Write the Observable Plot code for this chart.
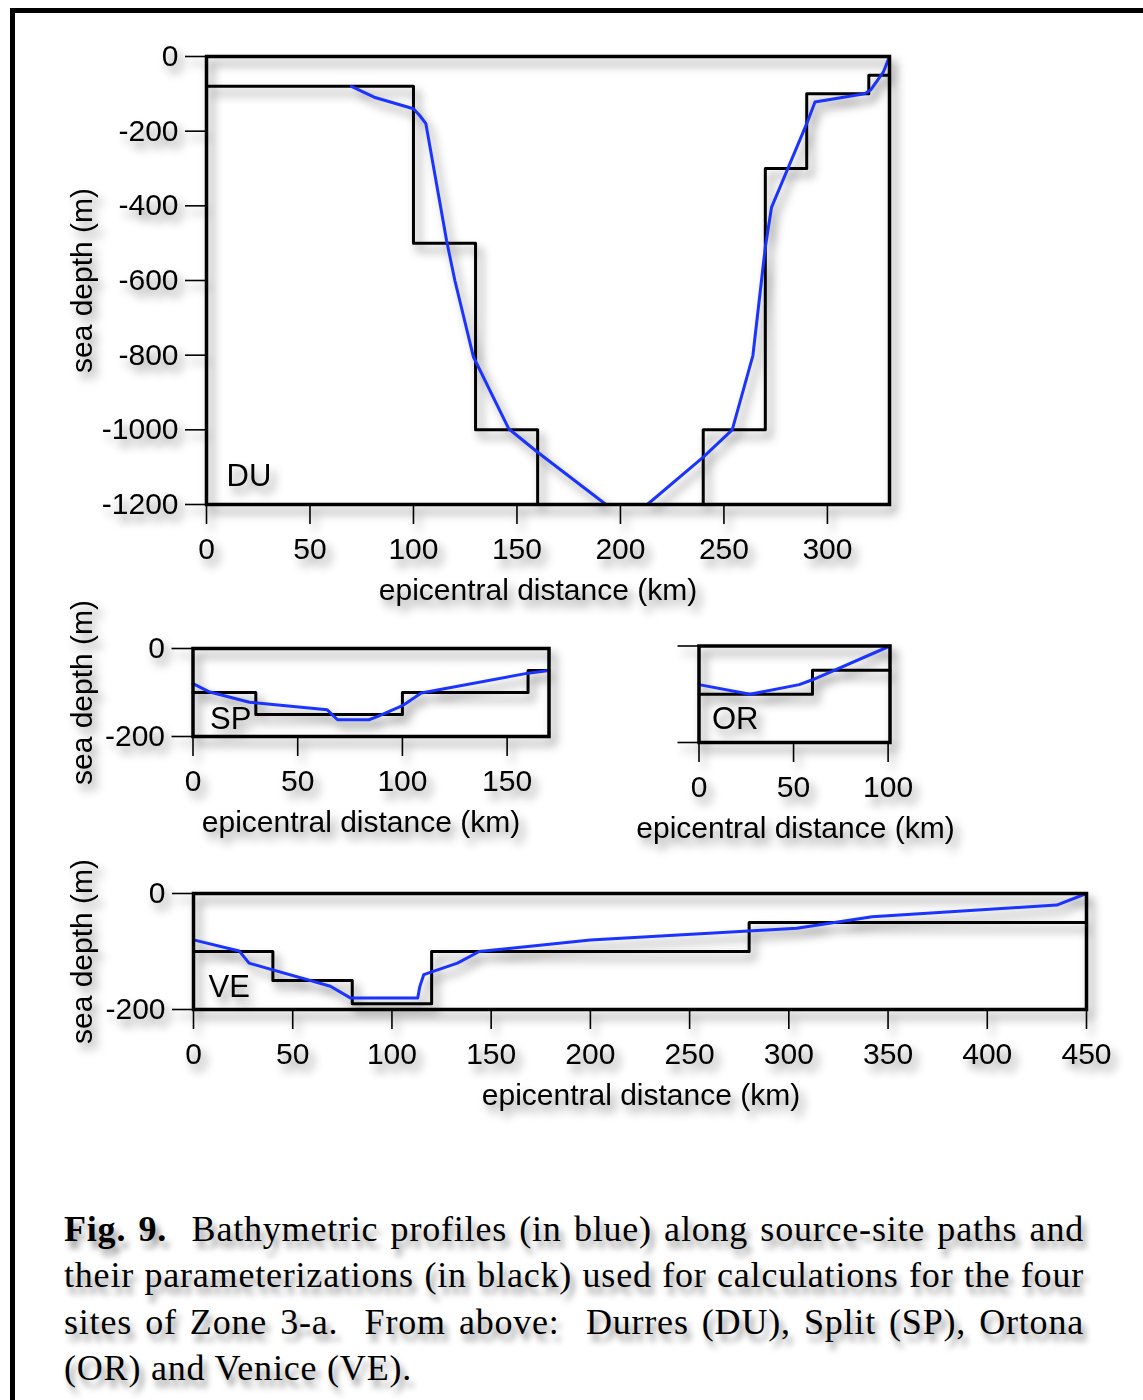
<!DOCTYPE html>
<html>
<head>
<meta charset="utf-8">
<script src="https://cdn.jsdelivr.net/npm/d3@7"></script>
<script src="https://cdn.jsdelivr.net/npm/@observablehq/plot@0.6"></script>
<style>
  html, body { margin: 0; padding: 0; background: #fff; }
  #page { position: relative; width: 1143px; height: 1400px; overflow: hidden; background: #fff; }
  #border { position: absolute; left: 10px; top: 8px; width: 1300px; height: 1500px;
            border-top: 5px solid #000; border-left: 5px solid #000; }
  .panel { position: absolute; }
  .panel svg { overflow: visible; max-width: none; filter: drop-shadow(5px 7px 5px rgba(0,0,0,0.45)); }
  #caption { position: absolute; left: 64px; top: 1206px; width: 1020px;
             font-family: "Liberation Serif", "Times New Roman", serif; font-size: 36px; line-height: 46.3px;
             letter-spacing: 0.8px;
             color: #000; text-shadow: 4px 7px 6px rgba(0,0,0,0.45); }
  #caption div { text-align: justify; text-align-last: justify; white-space: nowrap; }
  #caption div.last { text-align-last: left; }
</style>
</head>
<body>
<div id="page">
  <div id="border"></div>
  <div id="caption">
    <div><b>Fig. 9.</b>&nbsp; Bathymetric profiles (in blue) along source-site paths and</div>
    <div>their parameterizations (in black) used for calculations for the four</div>
    <div>sites of Zone 3-a.&nbsp; From above:&nbsp; Durres (DU), Split (SP), Ortona</div>
    <div class="last">(OR) and Venice (VE).</div>
  </div>
</div>
<script>
// ---- Durres (DU) ----
const duDist  = [70, 81, 100, 103, 106, 116, 120, 129, 146, 160, 193, 213, 240, 254, 264, 270, 273, 290, 294, 318, 321, 327, 330];
const duDepth = [-80, -109, -140, -158, -180, -493, -600, -805, -997, -1060, -1200, -1200, -1073, -1000, -801, -511, -404, -180, -122, -100, -89, -42, 0];
const duStepDist  = [0, 100, 130, 160, 240, 270, 290, 320, 330];
const duStepDepth = [-80, -500, -1000, -1200, -1000, -300, -100, -50, -50];
const duXTicks = [0, 50, 100, 150, 200, 250, 300];
const duYTicks = [0, -200, -400, -600, -800, -1000, -1200];

// ---- Split (SP) ----
const spDist  = [0, 8, 27, 64, 69, 84, 88, 100, 109, 160, 170];
const spDepth = [-80, -99, -122, -139, -162, -162, -155, -130, -101, -56, -50];
const spStepDist  = [0, 30, 100, 160, 170];
const spStepDepth = [-100, -150, -100, -50, -50];
const spXTicks = [0, 50, 100, 150];
const spYTicks = [0, -200];

// ---- Ortona (OR) ----
const orDist  = [0, 27, 53, 60, 101];
const orDepth = [-80, -100, -80, -70, 0];
const orStepDist  = [0, 60, 101];
const orStepDepth = [-100, -50, -50];
const orXTicks = [0, 50, 100];
const orYTicks = [0, -200];

// ---- Venice (VE) ----
const veDist  = [0, 23, 28, 69, 79, 113, 114, 116, 133, 144, 200, 304, 342, 435, 450];
const veDepth = [-80, -99, -120, -160, -180, -180, -161, -140, -120, -100, -80, -60, -40, -20, 0];
const veStepDist  = [0, 40, 80, 120, 280, 450];
const veStepDepth = [-100, -150, -190, -100, -50, -50];
const veXTicks = [0, 50, 100, 150, 200, 250, 300, 350, 400, 450];
const veYTicks = [0, -200];

const siteNames = ["DU", "SP", "OR", "VE"];
const xLabel = "epicentral distance (km)";
const yLabel = "sea depth (m)";

const PROFILE_BLUE = "#1a33ff";
const FONT = '"Liberation Sans", Arial, Helvetica, sans-serif';

function panel(cfg) {
  const [fl, ft, fr, fb] = cfg.frame;     // frame edges on the page
  const [sl, st, sw, sh] = cfg.svg;       // svg box on the page
  const chart = Plot.plot({
    width: sw,
    height: sh,
    marginLeft: fl - sl,
    marginRight: sl + sw - fr,
    marginTop: ft - st,
    marginBottom: st + sh - fb,
    style: {fontFamily: FONT, fontSize: "30px", color: "black", background: "transparent", overflow: "visible"},
    x: {domain: cfg.xDomain},
    y: {domain: cfg.yDomain},
    marks: [
      Plot.axisX({
        ticks: cfg.xTicks, tickFormat: d => String(d), tickSize: 20, tickPadding: 13,
        strokeWidth: 1.6, label: null
      }),
      // x-axis title under the tick labels
      Plot.text([xLabel], {
        text: d => d, frameAnchor: "bottom", lineAnchor: "bottom", dy: 95, dx: cfg.xLabelDx,
        fontSize: 30, fill: "black"
      }),
      Plot.axisY({
        ticks: cfg.yTicks, tickFormat: cfg.yLabels ? d => String(d) : () => "", tickSize: 21, tickPadding: 7,
        strokeWidth: 1.6, label: cfg.yLabels ? yLabel : null, labelAnchor: "center", labelArrow: "none",
        labelOffset: fl - sl - 70
      }),
      Plot.line({length: cfg.stepDist.length}, {
        x: cfg.stepDist, y: cfg.stepDepth, curve: "step-after", stroke: "black", strokeWidth: 3
      }),
      Plot.line({length: cfg.dist.length}, {
        x: cfg.dist, y: cfg.depth, stroke: PROFILE_BLUE, strokeWidth: 3
      }),
      Plot.text([cfg.site], {
        text: d => d, frameAnchor: "bottom-left", textAnchor: "start", lineAnchor: "bottom",
        dx: cfg.labelDx, dy: cfg.labelDy, fontSize: 31, fill: "black"
      }),
      Plot.frame({stroke: "black", strokeWidth: 3.5})
    ]
  });
  const holder = document.createElement("div");
  holder.className = "panel";
  holder.style.left = sl + "px";
  holder.style.top = st + "px";
  holder.style.width = sw + "px";
  holder.style.height = sh + "px";
  holder.appendChild(chart);
  document.getElementById("page").appendChild(holder);
}

panel({
  site: siteNames[0], dist: duDist, depth: duDepth, stepDist: duStepDist, stepDepth: duStepDepth,
  xDomain: [0, 330], yDomain: [-1200, 0], xTicks: duXTicks, yTicks: duYTicks, yLabels: true,
  frame: [206, 56, 889, 504], svg: [0, 0, 1143, 620], labelDx: 20, labelDy: -19, xLabelDx: -10
});
panel({
  site: siteNames[1], dist: spDist, depth: spDepth, stepDist: spStepDist, stepDepth: spStepDepth,
  xDomain: [0, 170], yDomain: [-200, 0], xTicks: spXTicks, yTicks: spYTicks, yLabels: true,
  frame: [192.5, 648, 548.5, 736], svg: [0, 600, 600, 250], labelDx: 17, labelDy: -8, xLabelDx: -10
});
panel({
  site: siteNames[2], dist: orDist, depth: orDepth, stepDist: orStepDist, stepDepth: orStepDepth,
  xDomain: [0, 101], yDomain: [-200, 0], xTicks: orXTicks, yTicks: orYTicks, yLabels: false,
  frame: [698.5, 645.5, 889.5, 742], svg: [600, 600, 543, 250], labelDx: 13, labelDy: -14, xLabelDx: 1
});
panel({
  site: siteNames[3], dist: veDist, depth: veDepth, stepDist: veStepDist, stepDepth: veStepDepth,
  xDomain: [0, 450], yDomain: [-200, 0], xTicks: veXTicks, yTicks: veYTicks, yLabels: true,
  frame: [193, 893, 1086, 1009], svg: [0, 850, 1143, 280], labelDx: 15, labelDy: -13, xLabelDx: 1
});
</script>
</body>
</html>
